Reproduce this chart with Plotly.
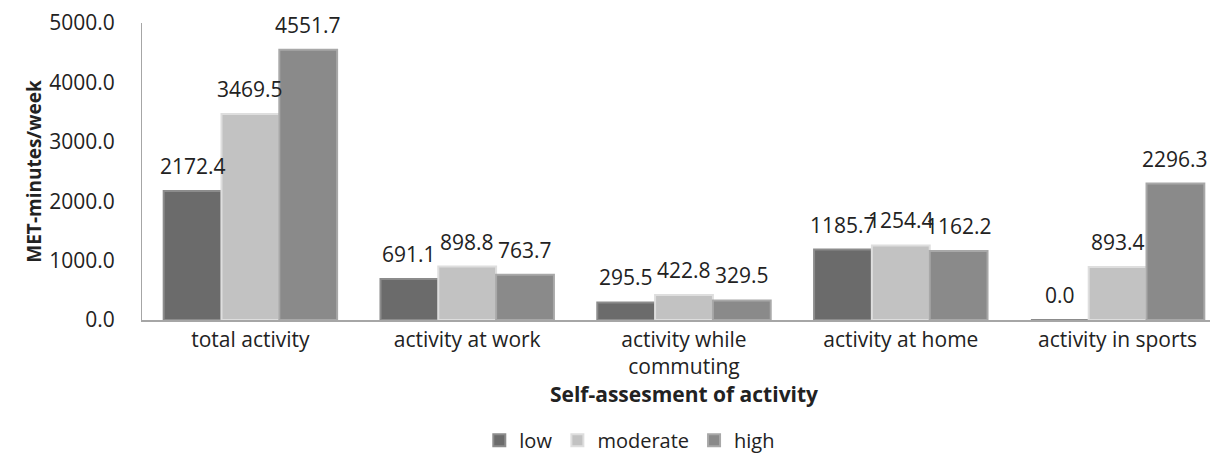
import plotly.graph_objects as go

categories = ["total activity", "activity at work", "activity while<br>commuting",
              "activity at home", "activity in sports"]
series_names = ["low", "moderate", "high"]
low_vals = [2172.4, 691.1, 295.5, 1185.7, 0.0]
moderate_vals = [3469.5, 898.8, 422.8, 1254.4, 893.4]
high_vals = [4551.7, 763.7, 329.5, 1162.2, 2296.3]
y_ticks = [0, 1000, 2000, 3000, 4000, 5000]

colors = ["#6b6b6b", "#c2c2c2", "#8a8a8a"]
edge = ["#8c8c8c", "#dedede", "#a8a8a8"]
FONT = "Open Sans"
BARGAP = 0.2

fig = go.Figure()
all_series = [low_vals, moderate_vals, high_vals]
for name, vals, c, e in zip(series_names, all_series, colors, edge):
    fig.add_trace(go.Bar(
        x=categories, y=vals, name=name,
        marker=dict(color=c, line=dict(color=e, width=2)),
        cliponaxis=False,
    ))

# value labels placed above each bar (drawn above all bars, like the reference)
n = len(all_series)
bw = (1 - BARGAP) / n
for k, vals in enumerate(all_series):
    for i, v in enumerate(vals):
        fig.add_annotation(
            x=i + (k - (n - 1) / 2) * bw, y=v, xref="x", yref="y",
            text=f"{v:.1f}", showarrow=False, yanchor="bottom", yshift=9,
            font=dict(size=21, color="#222222", family=FONT),
        )

fig.update_layout(
    width=1218, height=457,
    margin=dict(l=134, r=0, t=15, b=145),
    paper_bgcolor="white", plot_bgcolor="white",
    barmode="group", bargap=BARGAP, bargroupgap=0,
    font=dict(family=FONT, size=21, color="#222222"),
    legend=dict(orientation="h", x=0.45, xanchor="center", y=-0.405, yanchor="middle",
                font=dict(size=20), itemwidth=30, traceorder="normal"),
)
fig.update_yaxes(
    range=[0, 5000], tickvals=y_ticks, tickformat=".1f",
    showgrid=False, showline=True, linecolor="#a6a6a6", linewidth=1,
    ticks="", ticklabelstandoff=22, tickfont=dict(size=21),
    title=dict(text="<b>MET-minutes/week</b>", font=dict(size=19), standoff=2),
)
fig.update_xaxes(
    showgrid=False, showline=True, linecolor="#a6a6a6", linewidth=1.5,
    ticks="", tickfont=dict(size=21),
    title=dict(text="<b>Self-assesment of activity</b>", font=dict(size=21), standoff=2),
)

fig.write_html("out.html")
